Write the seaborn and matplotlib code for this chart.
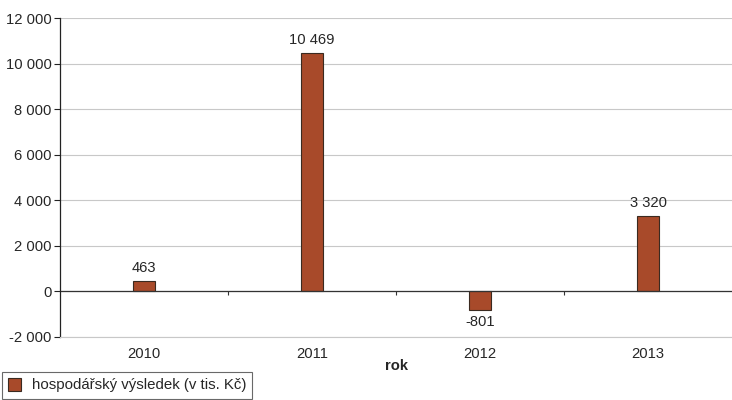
import pandas as pd
import matplotlib.pyplot as plt
import seaborn as sns

years = ['2010', '2011', '2012', '2013']
values = [463, 10469, -801, 3320]
series_name = 'hospodářský výsledek (v tis. Kč)'
bar_color = '#A84A2A'

df = pd.DataFrame({'rok': years, 'value': values})

sns.set_style('white')
plt.rcParams['font.family'] = ['Liberation Sans', 'DejaVu Sans']
fs = 10.6
plt.rcParams['font.size'] = fs

fig = plt.figure(figsize=(7.32, 4.0), dpi=100)
ax = fig.add_axes([0.082, 0.1575, 0.918, 0.7975])

sns.barplot(data=df, x='rok', y='value', color=bar_color, saturation=1,
            width=0.13, edgecolor='#3a2a20', linewidth=0.8, ax=ax,
            label=series_name)

ax.set_ylim(-2000, 12000)
ax.set_xlim(-0.5, 3.5)
ax.set_yticks(range(-2000, 12001, 2000))
ax.set_yticklabels([f'{v:,}'.replace(',', ' ') for v in range(-2000, 12001, 2000)])
ax.yaxis.grid(True, color='#c8c8c8', linewidth=0.8)
ax.set_axisbelow(True)

for s in ['top', 'right']:
    ax.spines[s].set_visible(False)
ax.spines['bottom'].set_color('#c8c8c8')
ax.spines['left'].set_color('#222222')
ax.spines['left'].set_linewidth(0.9)

ax.tick_params(axis='y', left=True, length=4, width=0.8, color='#222222',
               pad=2, labelsize=fs)
ax.tick_params(axis='x', bottom=False, length=0, pad=7, labelsize=fs)

# zero line with category separators
ax.axhline(0, color='#333333', linewidth=0.9, zorder=1)
ax.vlines([0.5, 1.5, 2.5], -150, 0, color='#333333', linewidth=0.8)

for bar, v in zip(ax.patches, values):
    x = bar.get_x() + bar.get_width() / 2
    label = f'{v:,}'.replace(',', ' ')
    if v >= 0:
        ax.annotate(label, (x, v), xytext=(0, 4), textcoords='offset points',
                    ha='center', va='bottom', fontsize=fs)
    else:
        ax.annotate(label, (x, v), xytext=(0, -4), textcoords='offset points',
                    ha='center', va='top', fontsize=fs)

ax.set_xlabel('rok', fontweight='bold', fontsize=fs, labelpad=-1)
ax.set_ylabel('')

if ax.get_legend():
    ax.get_legend().remove()
leg = fig.legend(loc='lower left', bbox_to_anchor=(0.0, 0.0), frameon=True,
                 fancybox=False, edgecolor='#444444', fontsize=10.8,
                 handlelength=0.9, handleheight=0.9, borderpad=0.4,
                 handletextpad=0.7, borderaxespad=0.1)
leg.get_frame().set_linewidth(0.8)

fig.savefig('out.png', dpi=100)
